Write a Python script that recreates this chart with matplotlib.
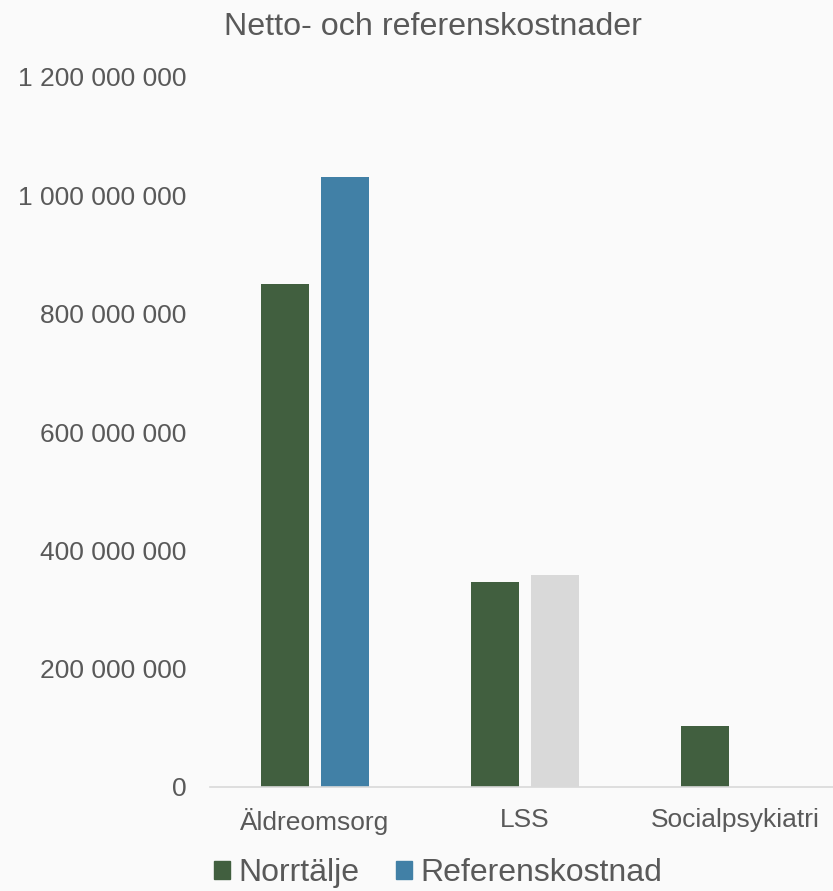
import numpy as np
import matplotlib.pyplot as plt

plt.rcParams['font.family'] = ['Liberation Sans', 'DejaVu Sans']

# Data
categories = ["Äldreomsorg", "LSS", "Socialpsykiatri"]
norrtalje = [850_000_000, 346_000_000, 103_000_000]
referens = [1_031_000_000, 358_000_000, np.nan]
referens_colors = ["#4180A6", "#D9D9D9", "#4180A6"]
yticks = [0, 200_000_000, 400_000_000, 600_000_000, 800_000_000, 1_000_000_000, 1_200_000_000]

green = "#415F3F"
blue = "#4180A6"
text_col = "#595959"
bg = "#FAFAFA"

fig = plt.figure(figsize=(8.33, 8.91), dpi=100, facecolor=bg)
ax = fig.add_axes([210 / 833, 104 / 891, 623 / 833, 710 / 891], facecolor=bg)

x = np.arange(len(categories))
w = 0.229
ax.bar(x - 0.143, norrtalje, width=w, color=green, zorder=2)
ax.bar(x + 0.143, referens, width=w, color=referens_colors, zorder=2)

ax.set_xlim(-0.5, 2.467)
ax.set_ylim(0, 1_200_000_000)
ax.set_yticks(yticks)
ax.set_yticklabels([f"{v:,}".replace(",", " ") for v in yticks])
ax.set_xticks(x)
ax.set_xticklabels(categories)
ax.tick_params(axis='y', length=0, pad=17, labelsize=19, labelcolor=text_col)
ax.tick_params(axis='x', length=0, pad=15, labelsize=19, labelcolor=text_col)

for s in ["top", "right", "left"]:
    ax.spines[s].set_visible(False)
ax.spines["bottom"].set_color("#D9D9D9")
ax.spines["bottom"].set_linewidth(1.2)

fig.text(433 / 833, 1 - 27 / 891, "Netto- och referenskostnader", ha="center", va="center",
         fontsize=23.2, color=text_col)

handles = [plt.Rectangle((0, 0), 1, 1, color=green), plt.Rectangle((0, 0), 1, 1, color=blue)]
fig.legend(handles, ["Norrtälje", "Referenskostnad"], loc="center", bbox_to_anchor=(438 / 833, 1 - 873 / 891),
           ncol=2, frameon=False, fontsize=23, labelcolor=text_col, handlelength=0.5, handleheight=0.5,
           handletextpad=0.25, columnspacing=1.15, borderpad=0)

fig.savefig("out.png", dpi=100, facecolor=bg)
